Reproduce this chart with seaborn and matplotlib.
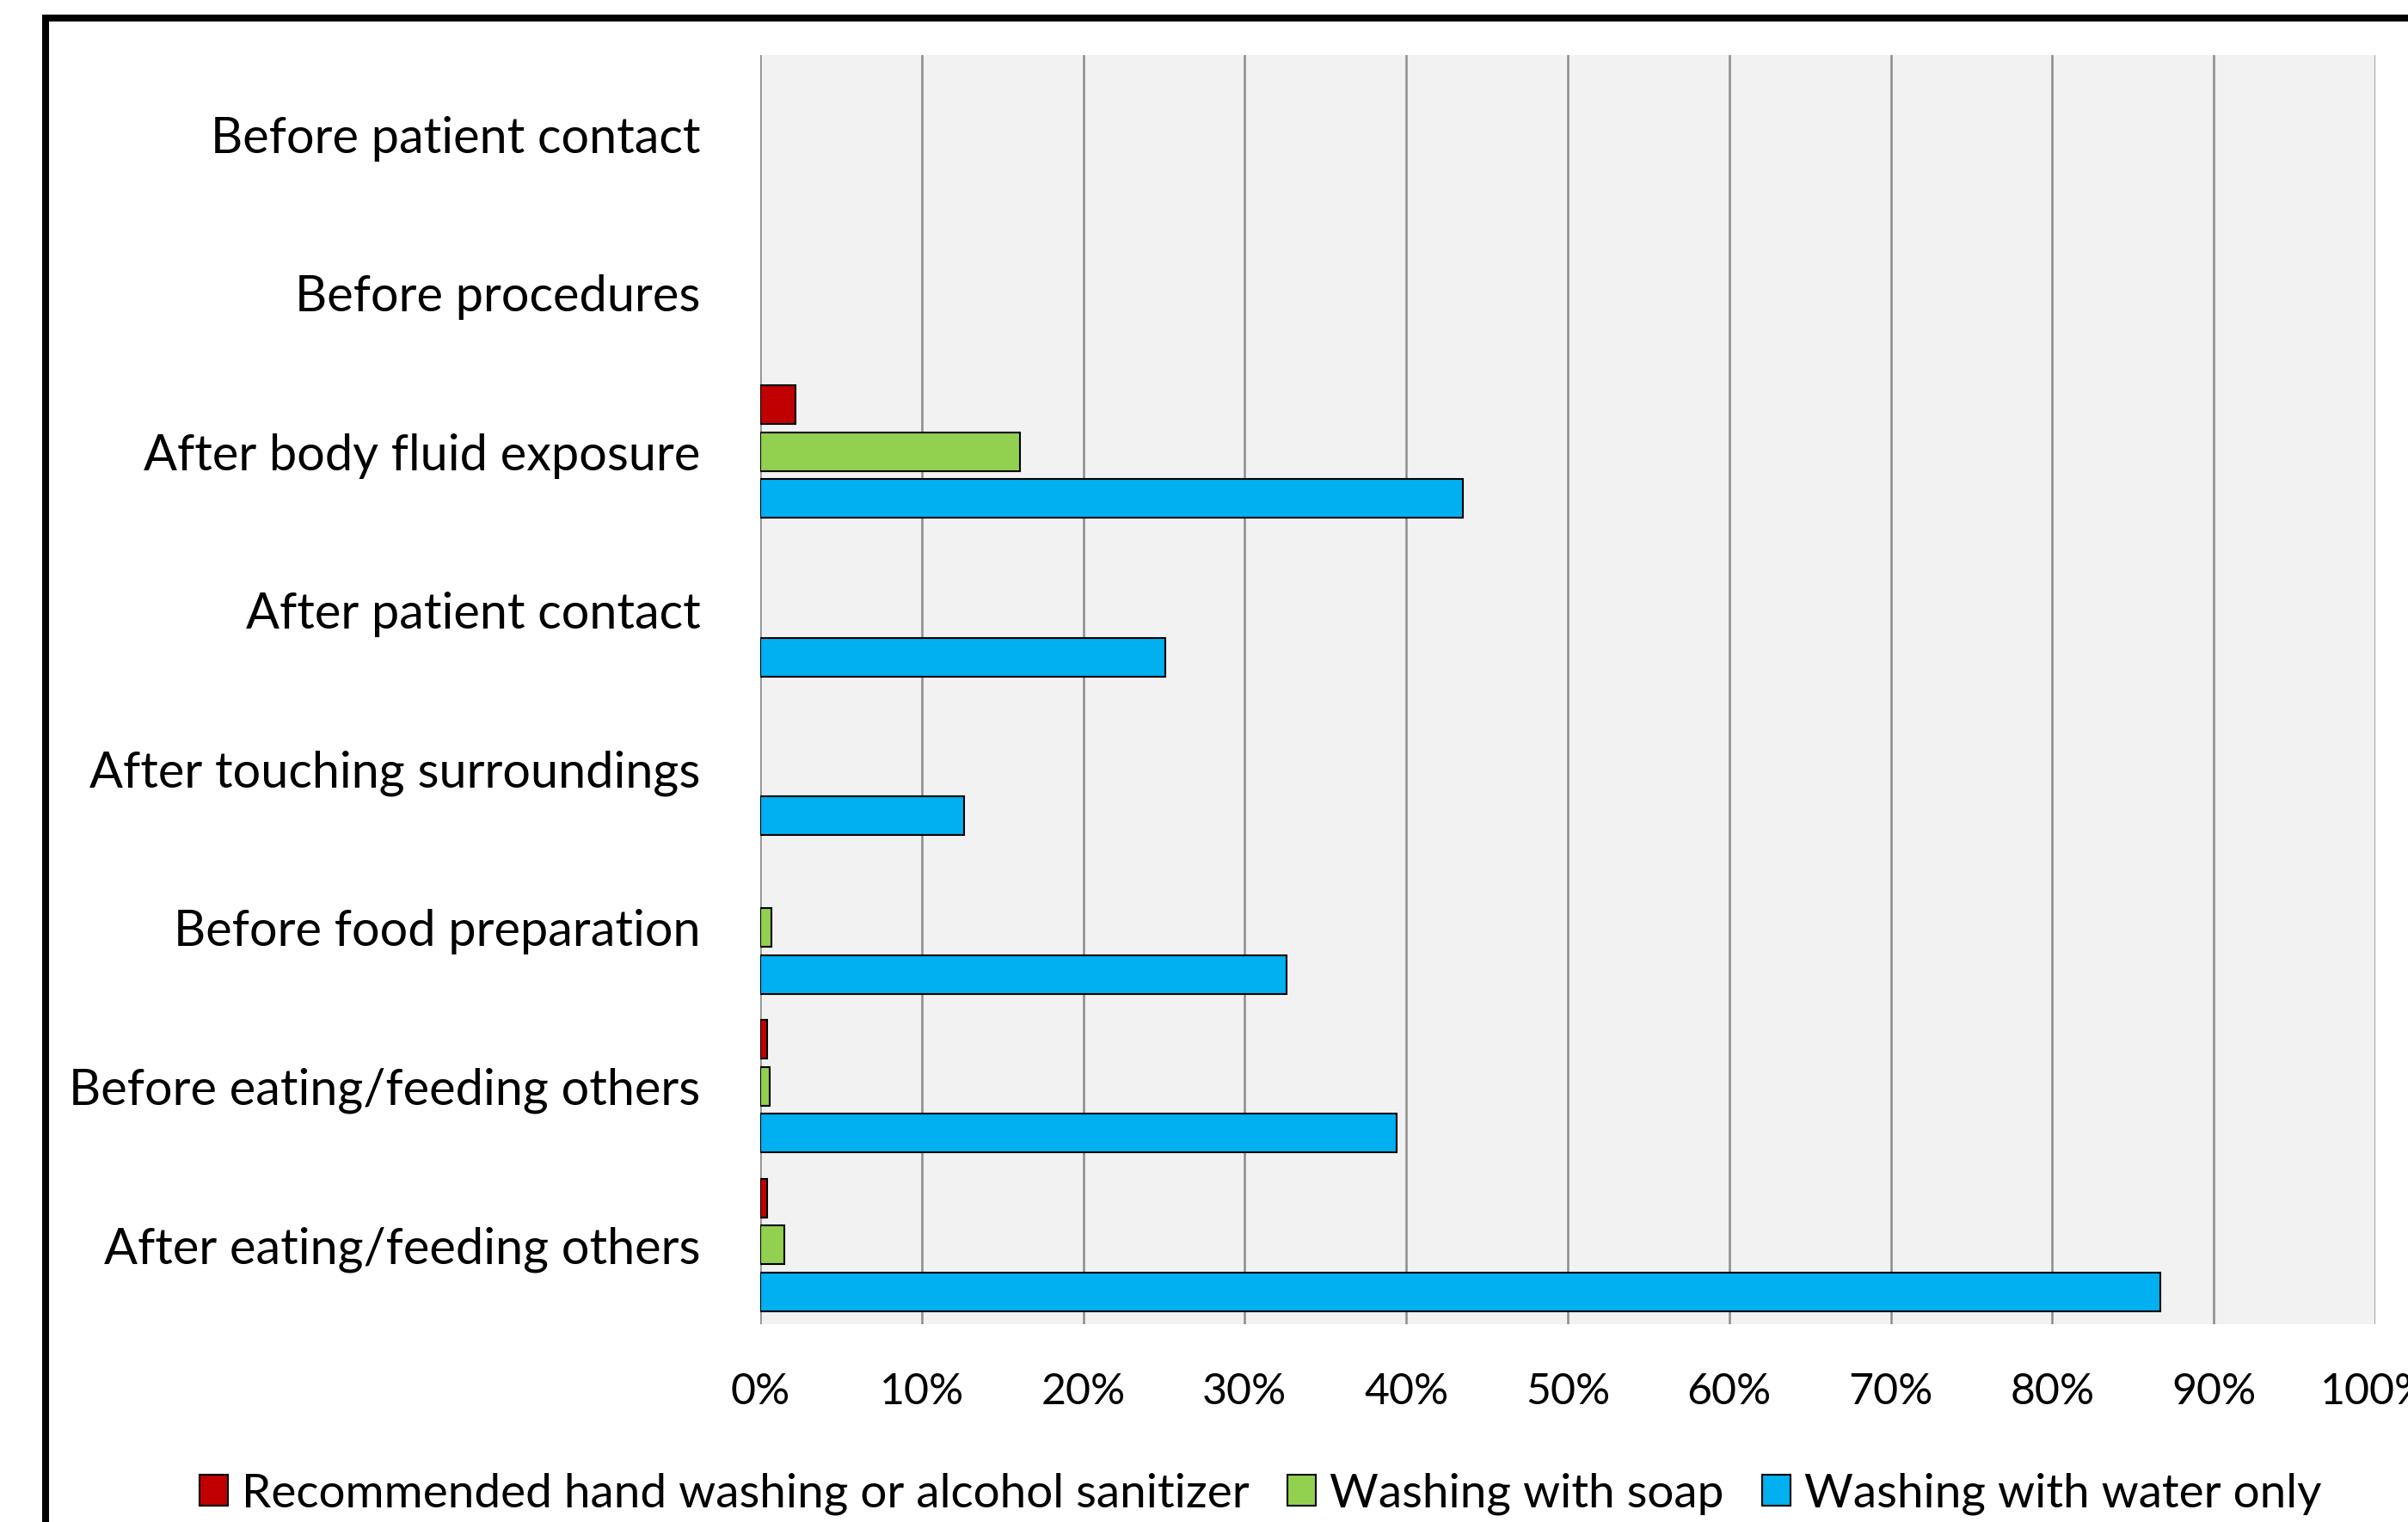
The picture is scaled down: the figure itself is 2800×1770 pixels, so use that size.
import numpy as np
import pandas as pd
import matplotlib
matplotlib.use("Agg")
import matplotlib.pyplot as plt
import seaborn as sns
from matplotlib.patches import Rectangle, Patch

# ---- data ----
categories = [
    "Before patient contact",
    "Before procedures",
    "After body fluid exposure",
    "After patient contact",
    "After touching surroundings",
    "Before food preparation",
    "Before eating/feeding others",
    "After eating/feeding others",
]
series_names = [
    "Recommended hand washing or alcohol sanitizer",
    "Washing with soap",
    "Washing with water only",
]
recommended = [0.0, 0.0, 2.2, 0.0, 0.0, 0.0, 0.45, 0.45]
soap = [0.0, 0.0, 16.1, 0.0, 0.0, 0.7, 0.6, 1.5]
water_only = [0.0, 0.0, 43.5, 25.1, 12.6, 32.6, 39.4, 86.7]
x_ticks = [0, 10, 20, 30, 40, 50, 60, 70, 80, 90, 100]
x_tick_labels = [f"{t}%" for t in x_ticks]
colors = ["#C00000", "#92D050", "#00B0F0"]

df = pd.DataFrame({
    "category": categories * 3,
    "value": recommended + soap + water_only,
    "method": [series_names[0]] * 8 + [series_names[1]] * 8 + [series_names[2]] * 8,
})

sns.set_theme(style="white")
FONT = ["Lato", "Liberation Sans", "DejaVu Sans"]
plt.rcParams["font.family"] = FONT
plt.rcParams["text.color"] = "black"

W, H = 2800, 1770
fig = plt.figure(figsize=(W / 100, H / 100), dpi=100)
fig.patch.set_facecolor("white")
ax = fig.add_axes([884 / W, 1 - 1540 / H, (2762 - 884) / W, (1540 - 64) / H])
ax.set_facecolor("#F2F2F2")

sns.barplot(
    data=df, y="category", x="value", hue="method",
    order=categories, hue_order=series_names, palette=colors, saturation=1,
    width=0.887, gap=0.18, edgecolor="black", linewidth=1.5,
    orient="h", ax=ax, zorder=3,
)
for p in ax.patches:
    if p.get_width() == 0:
        p.set_visible(False)

ax.set_xlim(0, 100)
ax.set_xticks(x_ticks)
ax.set_xticklabels(x_tick_labels)
ax.set_xlabel("")
ax.set_ylabel("")
for s in ax.spines.values():
    s.set_visible(False)
ax.grid(axis="x", color="#8C8C8C", linewidth=1.8, zorder=0)
ax.grid(axis="y", visible=False)
ax.set_axisbelow(True)
ax.tick_params(axis="x", length=0, pad=40, labelsize=36, labelcolor="black")
ax.tick_params(axis="y", length=0, pad=50, labelsize=41.5, labelcolor="black")

if ax.get_legend() is not None:
    ax.get_legend().remove()
handles = [Patch(facecolor=c, edgecolor="black", linewidth=1.5) for c in colors]
fig.legend(
    handles, series_names, loc="center left",
    bbox_to_anchor=(232 / W, 1 - 1737 / H), ncol=3, frameon=False,
    handlelength=0.6, handleheight=0.65,
    handletextpad=0.3, columnspacing=0.8, borderpad=0, borderaxespad=0,
    prop={"family": FONT, "size": 39.5},
)

# outer black frame (cropped on right and bottom)
fig.patches.append(Rectangle((53, -200), 3200, 1749 + 200, transform=None,
                             fill=False, edgecolor="black", linewidth=5.8))

fig.savefig("out.png", dpi=100, facecolor="white")
